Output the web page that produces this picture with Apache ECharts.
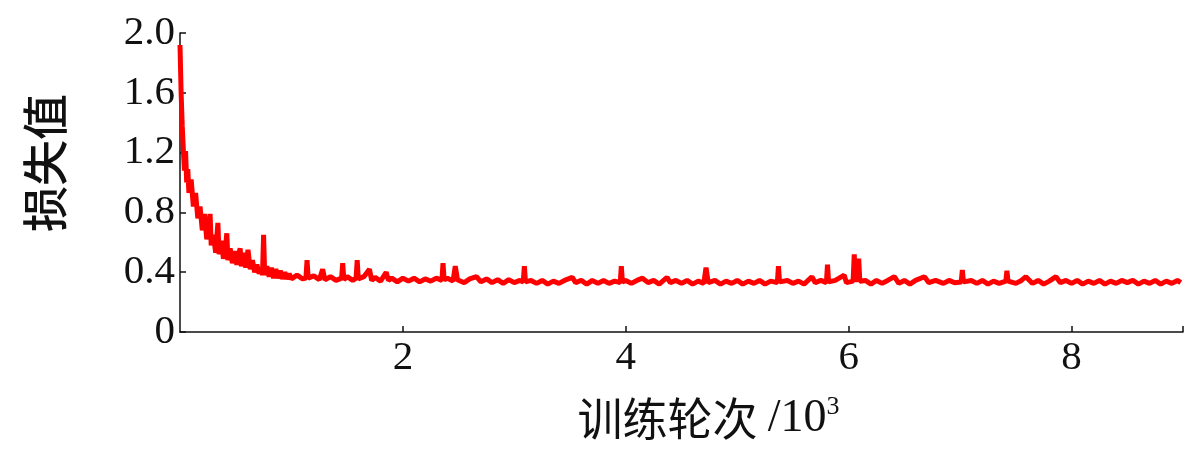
<!DOCTYPE html>
<html>
<head>
<meta charset="utf-8">
<script src="https://cdn.jsdelivr.net/npm/echarts@6/dist/echarts.min.js"></script>
<style>html,body{margin:0;padding:0;background:#fff}#c{width:1200px;height:451px}</style>
</head>
<body>
<div id="c"></div>
<script>
// training epochs (x 10^3)
const epochs = [
0.00,0.01,0.02,0.03,0.04,0.05,0.06,0.07,0.08,0.10,0.12,0.14,0.16,0.18,0.20,0.22,0.24,0.26,0.27,0.28,
0.30,0.32,0.34,0.35,0.37,0.39,0.41,0.42,0.43,0.45,0.47,0.49,0.51,0.53,0.54,0.55,0.57,0.59,0.61,0.63,
0.65,0.67,0.69,0.71,0.73,0.74,0.75,0.76,0.78,0.80,0.82,0.84,0.86,0.88,0.90,0.92,0.94,0.96,0.98,1.00,
1.05,1.10,1.13,1.14,1.15,1.20,1.25,1.28,1.30,1.35,1.40,1.45,1.46,1.47,1.50,1.55,1.58,1.59,1.60,1.65,
1.70,1.72,1.75,1.80,1.85,1.87,1.90,1.95,2.00,2.05,2.10,2.15,2.20,2.25,2.30,2.35,2.36,2.37,2.40,2.45,
2.47,2.49,2.55,2.60,2.66,2.70,2.75,2.80,2.85,2.90,2.95,3.00,3.05,3.08,3.09,3.10,3.15,3.20,3.25,3.30,
3.35,3.40,3.45,3.52,3.55,3.60,3.65,3.70,3.75,3.80,3.85,3.90,3.95,3.96,3.97,4.00,4.05,4.10,4.15,4.20,
4.25,4.30,4.37,4.40,4.45,4.50,4.55,4.60,4.65,4.70,4.72,4.74,4.80,4.85,4.90,4.95,5.00,5.05,5.10,5.15,
5.20,5.25,5.30,5.36,5.37,5.38,5.45,5.50,5.55,5.60,5.67,5.70,5.75,5.80,5.81,5.82,5.88,5.96,5.98,6.04,
6.05,6.06,6.08,6.09,6.10,6.15,6.20,6.25,6.30,6.35,6.41,6.45,6.50,6.55,6.60,6.68,6.72,6.78,6.85,6.90,
6.95,7.01,7.02,7.03,7.10,7.15,7.20,7.25,7.30,7.35,7.41,7.42,7.43,7.50,7.55,7.59,7.65,7.70,7.75,7.80,
7.86,7.90,7.95,8.00,8.05,8.10,8.15,8.20,8.25,8.30,8.35,8.40,8.45,8.50,8.55,8.60,8.65,8.70,8.75,8.80,
8.85,8.90,8.95,8.98
];
// loss values
const loss = [
1.92,1.60,1.38,1.22,1.08,1.21,1.00,1.09,0.93,1.02,0.84,0.93,0.76,0.84,0.68,0.79,0.62,0.71,0.79,0.58,
0.65,0.53,0.73,0.52,0.61,0.49,0.58,0.66,0.48,0.56,0.46,0.54,0.45,0.53,0.56,0.44,0.53,0.43,0.55,0.42,
0.48,0.40,0.45,0.39,0.43,0.38,0.65,0.38,0.44,0.37,0.43,0.36,0.42,0.36,0.41,0.355,0.40,0.355,0.39,0.355,
0.38,0.355,0.36,0.48,0.36,0.375,0.35,0.42,0.35,0.37,0.345,0.36,0.46,0.35,0.37,0.345,0.36,0.48,0.355,0.37,
0.42,0.345,0.365,0.34,0.40,0.345,0.36,0.335,0.36,0.34,0.36,0.335,0.355,0.34,0.36,0.345,0.46,0.35,0.36,0.34,
0.44,0.35,0.33,0.355,0.37,0.335,0.355,0.33,0.35,0.325,0.35,0.33,0.345,0.335,0.44,0.335,0.345,0.325,0.345,0.32,
0.34,0.325,0.345,0.365,0.33,0.345,0.32,0.345,0.325,0.345,0.325,0.34,0.33,0.44,0.335,0.345,0.325,0.345,0.36,0.33,
0.345,0.32,0.365,0.33,0.345,0.325,0.345,0.32,0.34,0.325,0.43,0.33,0.345,0.32,0.34,0.325,0.345,0.32,0.34,0.325,
0.345,0.32,0.34,0.33,0.44,0.335,0.345,0.325,0.34,0.32,0.37,0.33,0.345,0.33,0.45,0.335,0.345,0.38,0.33,0.34,
0.52,0.35,0.35,0.49,0.34,0.345,0.32,0.345,0.325,0.345,0.37,0.325,0.345,0.32,0.345,0.37,0.33,0.345,0.325,0.345,
0.33,0.335,0.415,0.335,0.345,0.325,0.345,0.32,0.34,0.325,0.34,0.41,0.34,0.325,0.345,0.37,0.325,0.345,0.32,0.34,
0.37,0.33,0.345,0.325,0.345,0.32,0.34,0.325,0.345,0.32,0.34,0.325,0.345,0.33,0.345,0.32,0.34,0.325,0.345,0.32,
0.34,0.325,0.345,0.33
];
const yTicks = [0, 0.4, 0.8, 1.2, 1.6, 2.0];
const xLabelValues = [2, 4, 6, 8];
const xTickValues = [2, 4, 6, 8, 9];

const chart = echarts.init(document.getElementById('c'), null, {renderer: 'canvas'});
const serif = '"Liberation Serif", "DejaVu Serif", serif';
const cjk = '"Noto Sans CJK SC", sans-serif';
chart.setOption({
  animation: false,
  backgroundColor: '#fff',
  grid: {left: 180, right: 17, top: 33, bottom: 119},
  graphic: [{
    type: 'text', x: 45, y: 163, rotation: Math.PI / 2,
    style: {text: '损失值', font: '500 46px "Noto Sans CJK SC", sans-serif', fill: '#111',
      align: 'center', verticalAlign: 'middle'}
  }],
  xAxis: {
    type: 'value', min: 0, max: 9,
    axisLine: {show: true, lineStyle: {color: '#111', width: 1.5}},
    axisTick: {show: true, inside: true, length: 6, customValues: xTickValues, lineStyle: {color: '#111', width: 1.5}},
    axisLabel: {customValues: xLabelValues, color: '#111', fontFamily: serif, fontSize: 41, margin: 6},
    splitLine: {show: false},
    name: '{c|训练轮次 }{n|/10}{s|3}',
    nameLocation: 'middle', nameGap: 62,
    nameTextStyle: {
      padding: [0, 0, 0, 54],
      rich: {
        c: {fontFamily: cjk, fontSize: 45, color: '#111'},
        n: {fontFamily: serif, fontSize: 46, color: '#111'},
        s: {fontFamily: serif, fontSize: 26, color: '#111', verticalAlign: 'top', padding: [0, 0, 24, 0]}
      }
    }
  },
  yAxis: {
    type: 'value', min: 0, max: 2.0, interval: 0.4,
    axisLine: {show: true, lineStyle: {color: '#111', width: 1.5}},
    axisTick: {show: true, inside: true, length: 6, customValues: yTicks, lineStyle: {color: '#111', width: 1.5}},
    axisLabel: {customValues: yTicks, color: '#111', fontFamily: serif, fontSize: 41, margin: 5,
      padding: [10, 0, 0, 0],
      formatter: v => v === 0 ? '0' : v.toFixed(1)},
    splitLine: {show: false}
  },
  series: [{
    type: 'line', showSymbol: false, symbol: 'none',
    data: epochs.map((e, i) => [e, loss[i]]),
    lineStyle: {color: '#ff0000', width: 5},
    clip: true
  }]
});
</script>
</body>
</html>
